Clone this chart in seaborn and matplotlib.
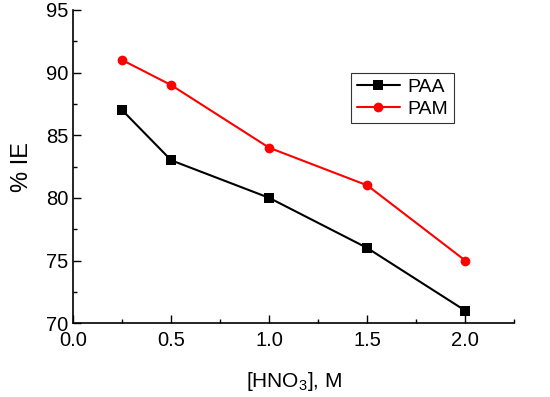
import matplotlib
matplotlib.use("Agg")
import matplotlib.pyplot as plt
import seaborn as sns
import pandas as pd
from matplotlib.ticker import MultipleLocator

# data
hno3 = [0.25, 0.5, 1.0, 1.5, 2.0]
paa = [87, 83, 80, 76, 71]
pam = [91, 89, 84, 81, 75]

df = pd.DataFrame({
    "x": hno3 * 2,
    "y": paa + pam,
    "series": ["PAA"] * len(hno3) + ["PAM"] * len(hno3),
})

sns.set_style("ticks")
plt.rcParams["font.family"] = ["Liberation Sans", "DejaVu Sans"]
plt.rcParams["mathtext.fontset"] = "custom"
plt.rcParams["mathtext.rm"] = "Liberation Sans"
plt.rcParams["text.color"] = "black"
plt.rcParams["axes.labelcolor"] = "black"
plt.rcParams["xtick.color"] = "black"
plt.rcParams["ytick.color"] = "black"

fig = plt.figure(figsize=(5.5, 3.97), dpi=100)
ax = fig.add_axes([0.133, 0.186, 0.802, 0.789])

sns.lineplot(data=df, x="x", y="y", hue="series", style="series",
             palette={"PAA": "black", "PAM": "red"},
             markers={"PAA": "s", "PAM": "o"}, dashes=False,
             markersize=7, linewidth=1.5, markeredgewidth=0, ax=ax)

ax.set_xlim(0, 2.25)
ax.set_ylim(70, 95)
ax.xaxis.set_major_locator(MultipleLocator(0.5))
ax.xaxis.set_minor_locator(MultipleLocator(0.25))
ax.yaxis.set_major_locator(MultipleLocator(5))
ax.yaxis.set_minor_locator(MultipleLocator(2.5))
ax.tick_params(which="both", direction="in", labelsize=14.5, width=1, color="black")
ax.tick_params(which="major", length=6)
ax.tick_params(which="minor", length=3)
ax.tick_params(axis="x", which="major", pad=6)
for s in ["left", "bottom"]:
    ax.spines[s].set_linewidth(1.2)
    ax.spines[s].set_color("black")
sns.despine(ax=ax)

ax.set_xlabel("[HNO$_\\mathrm{3}$], M", fontsize=15, labelpad=14)
ax.set_ylabel("% IE", fontsize=17, labelpad=9)

leg = ax.legend(loc="upper left", bbox_to_anchor=(0.63, 0.80), fontsize=14,
                frameon=True, fancybox=False, edgecolor="black",
                handlelength=2.2, handletextpad=0.4, borderpad=0.3,
                labelspacing=0.2, borderaxespad=0)
leg.get_frame().set_linewidth(0.8)

fig.savefig("out.png", dpi=100)
